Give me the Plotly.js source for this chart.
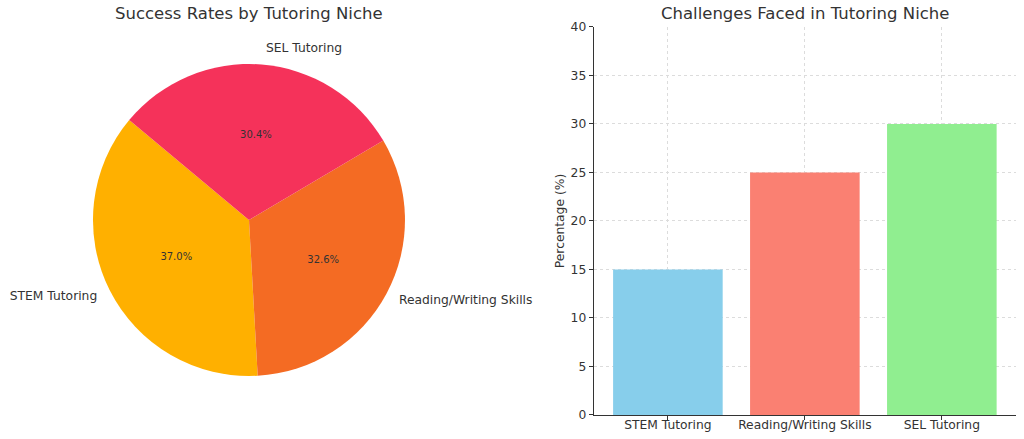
<!DOCTYPE html>
<html>
<head>
<meta charset="utf-8">
<script src="https://cdn.plot.ly/plotly-3.0.1.min.js"></script>
<style>html,body{margin:0;padding:0;background:#fff;}#chart{width:1024px;height:439px;}</style>
</head>
<body>
<div id="chart"></div>
<script>
const pieLabels = ['STEM Tutoring', 'Reading/Writing Skills', 'SEL Tutoring'];
const pieValues = [85, 75, 70];
const pieColors = ['#FFB000', '#F46B23', '#F5325A'];

const barCategories = ['STEM Tutoring', 'Reading/Writing Skills', 'SEL Tutoring'];
const barValues = [15, 25, 30];
const barColors = ['#87CEEB', '#FA8072', '#90EE90'];

const pieTitle = 'Success Rates by Tutoring Niche';
const barTitle = 'Challenges Faced in Tutoring Niche';
const yTitle = 'Percentage (%)';

const FONT = 'DejaVu Sans, sans-serif';
const LBL = 12.3;
const pieDomain = {x: [0.0908, 0.3955], y: [0.1435, 0.8542]};
const labelDomain = {x: [0.0811, 0.4053], y: [0.1207, 0.8770]};
const ROT = -183.2;

const traces = [
  {
    type: 'pie', labels: pieLabels, values: pieValues, sort: false,
    direction: 'counterclockwise', rotation: ROT,
    marker: {colors: pieColors, line: {width: 0}},
    texttemplate: '%{percent:.1%}', textposition: 'inside',
    insidetextorientation: 'horizontal',
    textfont: {family: FONT, size: 10, color: '#333'},
    domain: pieDomain, showlegend: false, hoverinfo: 'label+percent'
  },
  {
    type: 'pie', labels: pieLabels, values: pieValues, sort: false,
    direction: 'counterclockwise', rotation: ROT,
    marker: {colors: ['rgba(0,0,0,0)','rgba(0,0,0,0)','rgba(0,0,0,0)'], line: {width: 0}},
    texttemplate: '%{label}', textposition: 'outside',
    outsidetextfont: {family: FONT, size: LBL, color: '#333'},
    domain: labelDomain, showlegend: false, hoverinfo: 'skip', automargin: false
  },
  {
    type: 'bar', x: barCategories, y: barValues, marker: {color: barColors},
    width: 0.8, xaxis: 'x', yaxis: 'y', showlegend: false
  }
];

const layout = {
  width: 1024, height: 439,
  margin: {l: 0, r: 0, t: 0, b: 0},
  paper_bgcolor: '#fff', plot_bgcolor: '#fff',
  font: {family: FONT, color: '#333'},
  xaxis: {
    domain: [0.580, 0.992], range: [-0.54, 2.54],
    showline: true, linecolor: '#333', linewidth: 1.2,
    ticks: 'outside', ticklen: 4, tickcolor: '#333', ticklabelstandoff: -6,
    showgrid: true, gridcolor: '#dcdcdc', griddash: 'dot', gridwidth: 1,
    tickfont: {family: FONT, size: LBL, color: '#333'}, zeroline: false,
    fixedrange: true
  },
  yaxis: {
    domain: [0.0547, 0.9385], range: [0, 40], dtick: 5,
    showline: true, linecolor: '#333', linewidth: 1.2,
    ticks: 'outside', ticklen: 4, tickcolor: '#333',
    showgrid: true, gridcolor: '#dcdcdc', griddash: 'dot', gridwidth: 1,
    tickfont: {family: FONT, size: LBL, color: '#333'}, zeroline: false,
    title: {text: yTitle, font: {family: FONT, size: LBL, color: '#333'}, standoff: 3},
    fixedrange: true
  },
  annotations: [
    {text: pieTitle, xref: 'paper', yref: 'paper', x: 249/1024, y: 1 - 14/439,
     xanchor: 'center', yanchor: 'middle', showarrow: false,
     font: {family: FONT, size: 16.5, color: '#333'}},
    {text: barTitle, xref: 'paper', yref: 'paper', x: 805/1024, y: 1 - 14/439,
     xanchor: 'center', yanchor: 'middle', showarrow: false,
     font: {family: FONT, size: 16.5, color: '#333'}}
  ]
};

Plotly.newPlot('chart', traces, layout, {displayModeBar: false, staticPlot: true});
</script>
</body>
</html>
